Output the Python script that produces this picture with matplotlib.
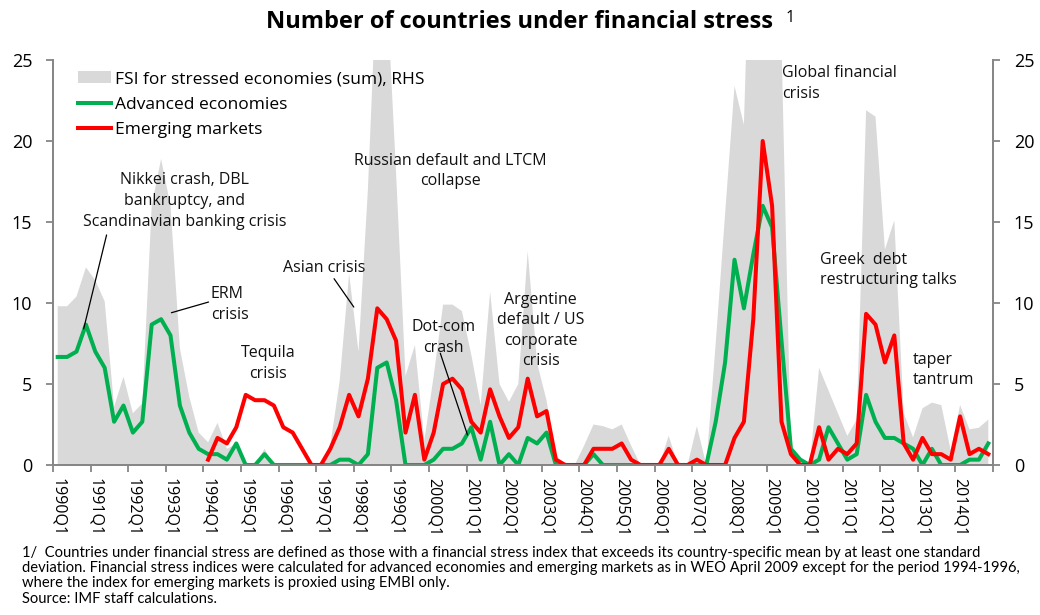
"""
Number of countries under financial stress (advanced vs emerging), with the
summed FSI for stressed economies as a grey area on the right-hand axis.
"""

import matplotlib

matplotlib.use("Agg")

import matplotlib.pyplot as plt  # noqa: E402
import numpy as np  # noqa: E402
from matplotlib.lines import Line2D  # noqa: E402
from matplotlib.patches import Patch  # noqa: E402

plt.rcParams["font.family"] = ["Open Sans", "DejaVu Sans"]

# quarterly, 1990Q1 .. 2014Q4
YEAR_LABELS = [
    "1990Q1", "1991Q1", "1992Q1", "1993Q1", "1994Q1", "1995Q1", "1996Q1",
    "1997Q1", "1998Q1", "1999Q1", "2000Q1", "2001Q1", "2002Q1", "2003Q1",
    "2004Q1", "2005Q1", "2006Q1", "2007Q1", "2008Q1", "2009Q1", "2010Q1",
    "2011Q1", "2012Q1", "2013Q1", "2014Q1",
]

# FSI for stressed economies (sum), RHS -- values above 25 are clipped
fsi_sum = [
    9.8, 9.8, 10.4, 12.2, 11.4, 10.1, 3.6, 5.45, 3.2, 3.8,
    16.0, 18.9, 16.0, 7.2, 4.2, 2.0, 1.4, 2.6, 1.0, 1.3,
    0, 0, 1.0, 0, 0, 0, 0, 0, 0, 1.2,
    5.2, 11.8, 7.0, 17.0, 31.0, 29.5, 18.0, 5.5, 7.4, 1.5,
    5.5, 9.9, 9.9, 9.5, 6.8, 3.7, 10.7, 5.0, 3.9, 5.0,
    13.2, 6.3, 4.0, 0.6, 0, 0, 1.2, 2.5, 2.4, 2.2,
    2.5, 1.2, 0, 0, 0, 1.8, 0, 0, 2.4, 0,
    7.5, 15.5, 23.4, 21.0, 40.0, 40.0, 40.0, 26.0, 1.0, 0,
    0, 6.0, 4.6, 3.2, 1.8, 2.8, 21.9, 21.5, 13.3, 15.1,
    3.2, 1.7, 3.5, 3.85, 3.7, 0.9, 3.7, 2.2, 2.3, 2.8,
]

advanced = [
    6.67, 6.67, 7.0, 8.67, 7.0, 6.0, 2.67, 3.67, 2.0, 2.67,
    8.67, 9.0, 8.0, 3.67, 2.0, 1.0, 0.67, 0.67, 0.33, 1.33,
    0, 0, 0.67, 0, 0, 0, 0, 0, 0, 0,
    0.33, 0.33, 0, 0.67, 6.0, 6.33, 4.0, 0, 0, 0,
    0.33, 1.0, 1.0, 1.33, 2.33, 0.33, 2.67, 0, 0.67, 0,
    1.67, 1.33, 2.0, 0, 0, 0, 0, 0.67, 0, 0,
    0, 0, 0, 0, 0, 0, 0, 0, 0, 0,
    2.67, 6.33, 12.67, 9.67, 13.0, 16.0, 14.67, 7.67, 1.0, 0.33,
    0, 0.33, 2.33, 1.33, 0.33, 0.67, 4.33, 2.67, 1.67, 1.67,
    1.33, 1.0, 0, 1.0, 0, 0, 0, 0.33, 0.33, 1.33,
]

# emerging markets series starts in 1994Q1
emerging = [None] * 16 + [
    0.33, 1.67, 1.33, 2.33,
    4.33, 4.0, 4.0, 3.67, 2.33, 2.0, 1.0, 0, 0, 1.0,
    2.33, 4.33, 3.0, 5.33, 9.67, 9.0, 7.67, 2.0, 4.33, 0.33,
    2.0, 5.0, 5.33, 4.67, 2.67, 2.0, 4.67, 3.0, 1.67, 2.33,
    5.33, 3.0, 3.33, 0.33, 0, 0, 0, 1.0, 1.0, 1.0,
    1.33, 0.33, 0, 0, 0, 1.0, 0, 0, 0.33, 0,
    0, 0, 1.67, 2.67, 9.0, 20.0, 16.0, 2.67, 0.67, 0,
    0, 2.33, 0.33, 1.0, 0.67, 1.33, 9.33, 8.67, 6.33, 8.0,
    1.33, 0.33, 1.67, 0.67, 0.67, 0.33, 3.0, 0.67, 1.0, 0.67,
]

GREY = "#D9D9D9"
GREEN = "#00B050"
RED = "#FF0000"
SPINE = "#868686"

n = len(advanced)
x = np.arange(n)
em = np.array([np.nan if v is None else v for v in emerging], dtype=float)

fig = plt.figure(figsize=(10.4, 6.15), dpi=100)
ax = fig.add_axes([53 / 1040, 1 - 465 / 615, 940 / 1040, 405 / 615])
ax2 = ax.twinx()

ax2.fill_between(x, fsi_sum, 0, color=GREY, lw=0)
ax.set_zorder(ax2.get_zorder() + 1)
ax.patch.set_visible(False)

ax.plot(x, advanced, color=GREEN, lw=2.9)
ax.plot(x, em, color=RED, lw=2.9)

for a in (ax, ax2):
    a.set_xlim(-0.5, n - 0.5)
    a.set_ylim(0, 25)
    a.set_yticks(range(0, 26, 5))
    a.spines["top"].set_visible(False)
    for s in ("left", "right", "bottom"):
        a.spines[s].set_color(SPINE)
        a.spines[s].set_linewidth(1.3)
    a.tick_params(axis="y", colors=SPINE, labelcolor="black",
                  labelsize=13, length=5, width=1.3, pad=10)

ax.tick_params(axis="y", left=True, right=False)
ax2.tick_params(axis="y", right=True, left=False)

# ticks at year boundaries, labels on each year's first quarter
ax.set_xticks(np.arange(-0.5, n, 4))
ax.set_xticklabels([])
ax.set_xticks(np.arange(0, n, 4), minor=True)
ax.set_xticklabels(YEAR_LABELS, minor=True, rotation=-90, fontsize=11.5)
ax.tick_params(axis="x", which="major", colors=SPINE, length=5, width=1.3)
ax.tick_params(axis="x", which="minor", length=0, pad=9, labelcolor="black")

# legend
handles = [
    Patch(facecolor=GREY, edgecolor="none"),
    Line2D([], [], color=GREEN, lw=2.9),
    Line2D([], [], color=RED, lw=2.9),
]
labels = ["FSI for stressed economies (sum), RHS", "Advanced economies",
          "Emerging markets"]
ax.legend(handles, labels, loc="upper left", bbox_to_anchor=(0.0145, 1.0),
          frameon=False, fontsize=12.5, handlelength=1.9, handletextpad=0.25,
          labelspacing=0.52, borderaxespad=0.1, borderpad=0.55)

# event annotations
txt = dict(fontsize=11.5, linespacing=1.38, color="#111111")
lead = dict(arrowstyle="-", color="black", lw=0.9, shrinkA=0, shrinkB=0)

ax.text(13.5, 16.3, "Nikkei crash, DBL\nbankruptcy, and\nScandinavian banking crisis",
        ha="center", va="center", **txt)
ax.annotate("", xy=(2.76, 8.4), xytext=(5.2, 14.2), arrowprops=lead)

ax.text(16.3, 9.9, "ERM\ncrisis", ha="left", va="center", **txt)
ax.annotate("", xy=(12.1, 9.4), xytext=(16.05, 10.06), arrowprops=lead)

ax.text(22.4, 6.27, "Tequila\ncrisis", ha="center", va="center", **txt)

ax.text(28.4, 12.16, "Asian crisis", ha="center", va="center", **txt)
ax.annotate("", xy=(31.5, 9.75), xytext=(29.4, 11.5), arrowprops=lead)

ax.text(41.8, 18.15, "Russian default and LTCM\ncollapse", ha="center",
        va="center", **txt)

ax.text(41.0, 7.87, "Dot-com\ncrash", ha="center", va="center", **txt)
ax.annotate("", xy=(43.6, 1.85), xytext=(40.7, 6.9), arrowprops=lead)

ax.text(51.4, 8.3, "Argentine\ndefault / US\ncorporate\ncrisis", ha="center",
        va="center", **txt)

ax.text(77.05, 23.55, "Global financial\ncrisis", ha="left", va="center", **txt)
ax.text(81.1, 12.04, "Greek  debt\nrestructuring talks", ha="left",
        va="center", **txt)
ax.text(91.0, 5.86, "taper\ntantrum", ha="left", va="center", **txt)

# title with footnote marker
fig.text(520 / 1040, 1 - 22 / 615, "Number of countries under financial stress",
         ha="center", va="center", fontsize=17, fontweight="bold")
fig.text(786 / 1040, 1 - 18 / 615, "1", ha="left", va="center", fontsize=11.5)

notes = [
    "1/  Countries under financial stress are defined as those with a financial "
    "stress index that exceeds its country-specific mean by at least one standard",
    "deviation. Financial stress indices were calculated for advanced economies "
    "and emerging markets as in WEO April 2009 except for the period 1994-1996,",
    "where the index for emerging markets is proxied using EMBI only.",
    "Source: IMF staff calculations.",
]
for k, line in enumerate(notes):
    fig.text(22 / 1040, 1 - (553 + 15.2 * k) / 615, line, ha="left",
             va="center", fontsize=10.6, family=["Lato", "DejaVu Sans"])

fig.savefig("out.png", dpi=100)
